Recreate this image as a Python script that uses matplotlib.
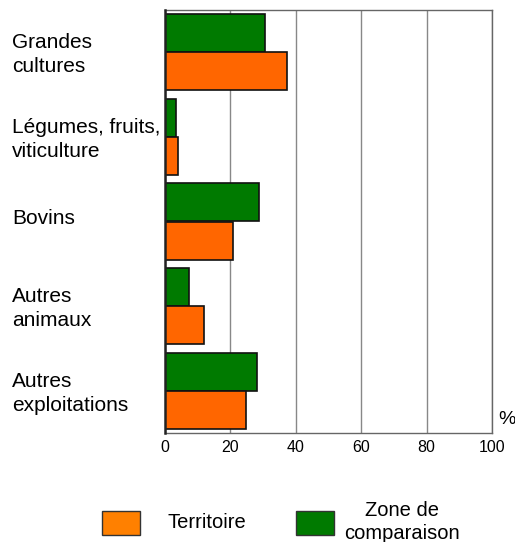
import matplotlib
matplotlib.use("Agg")
import matplotlib.pyplot as plt
from matplotlib.patches import Rectangle
import numpy as np

plt.rcParams['font.family'] = ['Liberation Sans', 'DejaVu Sans']

categories = ["Grandes\ncultures", "Légumes, fruits,\nviticulture", "Bovins",
              "Autres\nanimaux", "Autres\nexploitations"]
territoire = [37.3, 4.0, 21.0, 12.1, 24.8]
zone = [30.8, 3.6, 28.8, 7.4, 28.3]
xticks = [0, 20, 40, 60, 80, 100]
legend_labels = ["Territoire", "Zone de\ncomparaison"]

orange = "#FF6600"
green = "#007A00"

W, H = 515, 542
fig = plt.figure(figsize=(W / 100, H / 100), dpi=100)
ax = fig.add_axes([164.5 / W, 1 - 433 / H, (492 - 164.5) / W, (433 - 10) / H])

y = np.arange(len(categories))
bh = 0.45
ax.barh(y - bh / 2, zone, height=bh, color=green, edgecolor="#111111", linewidth=1.2, zorder=3)
ax.barh(y + bh / 2, territoire, height=bh, color=orange, edgecolor="#111111", linewidth=1.2, zorder=3)

ax.set_xlim(0, 100)
ax.set_ylim(len(categories) - 0.5, -0.5)
ax.set_xticks(xticks)
ax.set_xticklabels([str(v) for v in xticks], fontsize=11.5)
ax.set_yticks([])
ax.tick_params(axis='x', length=0, pad=5)
ax.grid(axis='x', color="#888888", linewidth=1, zorder=0)
for s in ['top', 'bottom', 'right']:
    ax.spines[s].set_color("#666666")
    ax.spines[s].set_linewidth(1)
ax.spines['left'].set_color("#222222")
ax.spines['left'].set_linewidth(1.8)
ax.spines['left'].set_zorder(4)

fig.canvas.draw()
for i, c in enumerate(categories):
    off = 0.03 if "\n" in c else -0.03
    disp = ax.transData.transform((0, i + off))
    fx, fy = fig.transFigure.inverted().transform(disp)
    fig.text(12 / W, fy, c, fontsize=15, ha='left', va='center', linespacing=1.35)

fig.text(498 / W, 1 - 420 / H, "%", fontsize=14, ha='left', va='center')

# legend
for (x0, col, lab, tx) in [(102, "#FF8000", legend_labels[0], 207),
                           (296, green, legend_labels[1], 402)]:
    r = Rectangle((x0 / W, 1 - 535 / H), 38 / W, 24 / H, transform=fig.transFigure,
                  facecolor=col, edgecolor="#333333", linewidth=1)
    fig.patches.append(r)
    fig.text(tx / W, 1 - 522 / H, lab, fontsize=14.5, ha='center', va='center', linespacing=1.25)

fig.savefig("out.png", dpi=100)
